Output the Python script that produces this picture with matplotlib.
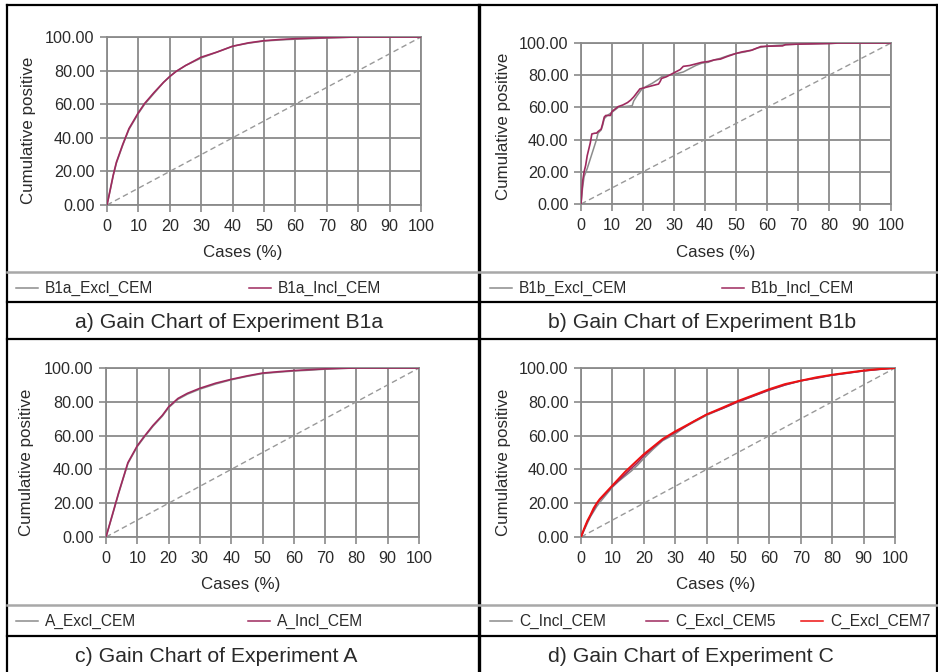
import matplotlib
matplotlib.use("Agg")
import matplotlib.pyplot as plt
from matplotlib.lines import Line2D

plt.rcParams['font.family'] = ['Liberation Sans', 'DejaVu Sans']

# ---------------- data ----------------
x_ticks = [0, 10, 20, 30, 40, 50, 60, 70, 80, 90, 100]
y_ticks = [0, 20, 40, 60, 80, 100]
baseline = [0, 100]

# Panel a: Experiment B1a
b1a_x = [0, 1, 2, 3, 5, 7, 10, 12, 15, 18, 20, 22, 25, 30, 35, 40, 45, 50, 55, 60, 70, 80, 90, 100]
b1a_excl = [0, 8.5, 17.5, 25, 35.5, 45, 54.5, 60, 66.5, 73, 76.5, 79.5, 83, 87.5, 91, 94.5, 96.3, 97.6, 98.2, 98.7, 99.4, 100, 100, 100]
b1a_incl = [0, 9, 18, 25.5, 36, 45.5, 55, 60.5, 67, 73, 76.5, 79.5, 83, 88, 91, 94.5, 96.5, 97.8, 98.5, 99, 99.6, 100, 100, 100]

# Panel b: Experiment B1b
b1b_incl_x = [0, 0.3, 0.6, 1, 1.5, 2, 2.5, 3, 3.5, 4.5, 5, 5.5, 6.5, 7, 7.5, 8, 9.5, 10, 11, 12, 13.5, 15, 16, 17, 18, 19, 20,
              21, 23, 25, 25.5, 26, 27.5, 29, 30, 31, 32, 33, 35, 37, 39, 41, 43, 45, 47, 50, 52, 55, 57, 58, 60, 65, 66,
              70, 75, 80, 83, 100]
b1b_incl = [0, 8, 15, 20, 24, 30, 34, 38, 43.5, 44, 44, 45, 46.5, 50, 54, 55, 55, 57.5, 59, 60.5, 61.5, 63, 64.5, 66.5, 69, 71.5, 72,
            72.5, 73.5, 74.5, 76, 78, 79, 80.5, 81.5, 82.5, 83.5, 85.5, 86, 87, 88, 88.5, 89.5, 90, 91.5, 93.5, 94.5, 95.5, 97,
            97.8, 98, 98.2, 99, 99.3, 99.5, 99.7, 100, 100]
b1b_excl_x = [0, 0.5, 1, 2, 3, 4, 5, 5.5, 6.5, 7, 7.5, 8.5, 10, 12, 14, 16.5, 17, 18, 19.5, 21, 23, 25, 26, 28, 30, 33, 35, 37,
              39, 41, 43, 45, 48, 50, 53, 55, 57, 60, 63, 67, 70, 80, 85, 100]
b1b_excl = [0, 10, 17, 22, 28, 34, 40, 44, 46, 49, 53, 55, 57, 60, 60.5, 61, 64, 67, 71, 73, 75, 77.5, 79, 80, 80.5, 82, 84, 86,
            87.5, 88, 89.5, 90.5, 92.5, 93.5, 94.5, 95.5, 97, 98, 98.5, 99, 99.3, 99.7, 100, 100]

# Panel c: Experiment A
a_x = [0, 2, 4, 7, 10, 12, 15, 18, 20, 23, 26, 30, 35, 40, 45, 50, 55, 60, 65, 70, 75, 80, 90, 100]
a_excl = [0, 12.5, 25.5, 43.5, 53.5, 58.5, 65.5, 71.5, 76.5, 81.5, 84.5, 87.5, 90.5, 93, 95, 96.7, 97.5, 98.2, 98.7, 99.3, 99.7, 100, 100, 100]
a_incl = [0, 13, 26, 44, 54, 59, 66, 72, 77, 82, 85, 88, 91, 93.3, 95.3, 97, 97.8, 98.5, 99, 99.5, 99.8, 100, 100, 100]

# Panel d: Experiment C
c_x = [0, 1, 2, 3, 4, 5, 6, 8, 10, 12, 14, 16, 18, 20, 23, 26, 30, 33, 36, 40, 45, 50, 55, 60, 65, 70, 75, 80, 85, 90, 95, 100]
c_incl = [0, 4, 8, 12, 15, 18, 20.5, 25, 29.5, 33, 36, 39, 42.5, 46.5, 52, 57, 61, 65, 68, 72, 76, 80, 83.5, 87, 90, 92.3, 94.2,
          95.8, 97, 98.3, 99.2, 100]
c_excl5 = [0, 4.5, 9, 12.5, 16, 19.5, 22, 26, 30, 33.5, 37, 40.5, 44, 48, 53, 57.5, 62, 65, 68.5, 72.5, 76, 80, 83.5, 87, 90,
           92.5, 94, 95.8, 97, 98.3, 99.2, 100]
c_excl7 = [0, 5, 9.5, 13, 17, 20, 22.5, 26.5, 30.5, 34.5, 38.5, 42, 45.5, 49, 53.5, 58, 62.5, 65.5, 68.5, 72.5, 76.5, 80.5, 84,
           87.5, 90.5, 92.5, 94.5, 96, 97.3, 98.5, 99.4, 100]

# ---------------- styling ----------------
W, H = 938, 672
GRAY = '#8c8c8c'
GRID = '#8a8a8a'
PURPLE = '#9e2a5e'
RED = '#ee1111'
TXT = '#2a2a2a'
TICK_FS = 11.6
LAB_FS = 12.2
LEG_FS = 11.2
CAP_FS = 15.3

fig = plt.figure(figsize=(W / 100, H / 100), dpi=100)
fig.patch.set_facecolor('white')


def fx(px):
    return px / W


def fy(py):
    return 1 - py / H


def hline(y, x0, x1, color='black', lw=1.6):
    fig.add_artist(Line2D([fx(x0), fx(x1)], [fy(y), fy(y)], color=color, lw=lw, transform=fig.transFigure))


def vline(x, y0, y1, color='black', lw=1.6):
    fig.add_artist(Line2D([fx(x), fx(x)], [fy(y0), fy(y1)], color=color, lw=lw, transform=fig.transFigure))


def make_axes(x0, x1, ytop, ybot):
    ax = fig.add_axes([fx(x0), fy(ybot), (x1 - x0) / W, (ybot - ytop) / H])
    ax.set_xlim(0, 100)
    ax.set_ylim(0, 100)
    ax.set_xticks(x_ticks)
    ax.set_xticklabels([str(v) for v in x_ticks])
    ax.set_yticks(y_ticks)
    ax.set_yticklabels(['%.2f' % v for v in y_ticks])
    ax.grid(True, color=GRID, lw=1.3)
    ax.set_axisbelow(True)
    for s in ax.spines.values():
        s.set_color(GRID)
        s.set_linewidth(1.3)
    ax.tick_params(axis='both', length=5, width=1.2, color=GRID, labelsize=TICK_FS, labelcolor=TXT)
    ax.tick_params(axis='x', pad=5)
    ax.tick_params(axis='y', pad=4)
    ax.plot(baseline, baseline, color='#999999', lw=1.0, ls=(0, (4, 2.5)), zorder=2)
    return ax


def legend_entry(x_line, y, text, color, lw=1.1):
    fig.add_artist(Line2D([fx(x_line), fx(x_line + 22)], [fy(y), fy(y)], color=color, lw=lw, transform=fig.transFigure))
    fig.text(fx(x_line + 29), fy(y), text, ha='left', va='center', fontsize=LEG_FS, color=TXT)


# ---- panel a ----
ax = make_axes(107, 421, 37, 205)
ax.plot(b1a_x, b1a_excl, color=GRAY, lw=1.1, zorder=3)
ax.plot(b1a_x, b1a_incl, color=PURPLE, lw=1.2, zorder=4)
fig.text(fx(243), fy(253), 'Cases (%)', ha='center', va='center', fontsize=LAB_FS, color=TXT)
fig.text(fx(28), fy(130), 'Cumulative positive', ha='center', va='center', rotation=90, fontsize=LAB_FS, color=TXT)
legend_entry(16, 288, 'B1a_Excl_CEM', GRAY)
legend_entry(249, 288, 'B1a_Incl_CEM', PURPLE)
fig.text(fx(75), fy(323), 'a) Gain Chart of Experiment B1a', ha='left', va='center', fontsize=CAP_FS, color=TXT)

# ---- panel b ----
ax = make_axes(581, 891, 43, 204)
ax.plot(b1b_excl_x, b1b_excl, color=GRAY, lw=1.1, zorder=3)
ax.plot(b1b_incl_x, b1b_incl, color=PURPLE, lw=1.2, zorder=4)
fig.text(fx(716), fy(253), 'Cases (%)', ha='center', va='center', fontsize=LAB_FS, color=TXT)
fig.text(fx(503), fy(126), 'Cumulative positive', ha='center', va='center', rotation=90, fontsize=LAB_FS, color=TXT)
legend_entry(490, 288, 'B1b_Excl_CEM', GRAY)
legend_entry(722, 288, 'B1b_Incl_CEM', PURPLE)
fig.text(fx(548), fy(323), 'b) Gain Chart of Experiment B1b', ha='left', va='center', fontsize=CAP_FS, color=TXT)

# ---- panel c ----
ax = make_axes(106, 419, 368, 537)
ax.plot(a_x, a_excl, color=GRAY, lw=1.1, zorder=3)
ax.plot(a_x, a_incl, color=PURPLE, lw=1.2, zorder=4)
fig.text(fx(241), fy(585), 'Cases (%)', ha='center', va='center', fontsize=LAB_FS, color=TXT)
fig.text(fx(27), fy(462), 'Cumulative positive', ha='center', va='center', rotation=90, fontsize=LAB_FS, color=TXT)
legend_entry(16, 621, 'A_Excl_CEM', GRAY)
legend_entry(248, 621, 'A_Incl_CEM', PURPLE)
fig.text(fx(75), fy(657), 'c) Gain Chart of Experiment A', ha='left', va='center', fontsize=CAP_FS, color=TXT)

# ---- panel d ----
ax = make_axes(581, 895, 368, 537)
ax.plot(c_x, c_incl, color=GRAY, lw=1.1, zorder=3)
ax.plot(c_x, c_excl5, color=PURPLE, lw=1.2, zorder=4)
ax.plot(c_x, c_excl7, color=RED, lw=1.4, zorder=5)
fig.text(fx(716), fy(585), 'Cases (%)', ha='center', va='center', fontsize=LAB_FS, color=TXT)
fig.text(fx(503), fy(462), 'Cumulative positive', ha='center', va='center', rotation=90, fontsize=LAB_FS, color=TXT)
legend_entry(490, 621, 'C_Incl_CEM', GRAY)
legend_entry(646, 621, 'C_Excl_CEM5', PURPLE)
legend_entry(801, 621, 'C_Excl_CEM7', RED)
fig.text(fx(548), fy(657), 'd) Gain Chart of Experiment C', ha='left', va='center', fontsize=CAP_FS, color=TXT)

# ---- panel frames ----
hline(5, 7, 937)
vline(7, 5, 672)
vline(937, 5, 672)
vline(479, 5, 672, lw=2.4)
hline(272, 7, 937, color='#a8a8a8', lw=1.8)
hline(302, 7, 937)
hline(339, 7, 937)
hline(605, 7, 937, color='#a8a8a8', lw=1.8)
hline(636, 7, 937)

fig.savefig('out.png', dpi=100, facecolor='white')
